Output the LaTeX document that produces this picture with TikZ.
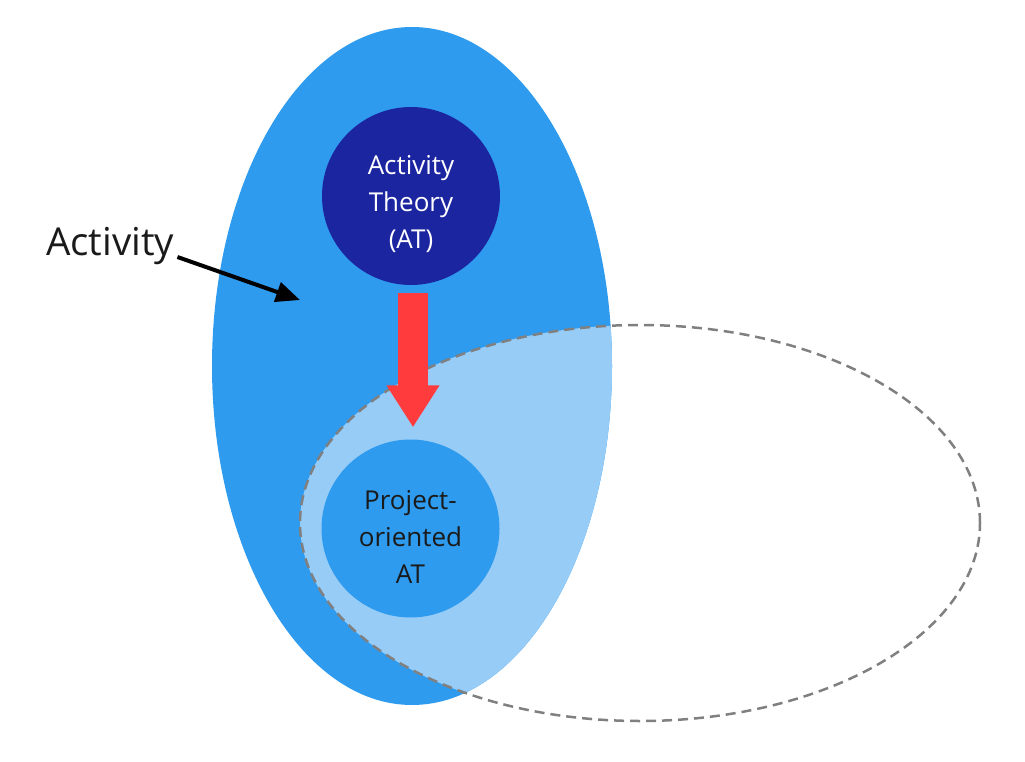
\documentclass[tikz,border=0pt]{standalone}
\usepackage{fontspec}
\setmainfont{Open Sans}
\usetikzlibrary{arrows.meta}
\definecolor{actblue}{HTML}{2E9BEF}
\definecolor{atdark}{HTML}{1C25A0}
\definecolor{lightblue}{HTML}{97CCF7}
\definecolor{redarrow}{HTML}{FF3B3E}
\definecolor{dashgray}{HTML}{808080}
\definecolor{txtdark}{HTML}{1A1A1A}
\tikzset{
  circnode/.style={circle, minimum size=178pt, inner sep=0pt},
  circtext/.style={inner sep=0pt, align=center, font=\fontsize{26}{37}\selectfont},
  dashline/.style={draw=dashgray, line width=2.5pt, dash pattern=on 10pt off 6pt},
}
\begin{document}
\begin{tikzpicture}[x=1pt,y=-1pt]
\useasboundingbox (0,0) rectangle (1025,762);
% big Activity ellipse
\fill[actblue] (412,366) ellipse [x radius=200pt, y radius=339pt];
% intersection region
\begin{scope}
  \clip (412,366) ellipse [x radius=200pt, y radius=339pt];
  \fill[lightblue] (640,523) ellipse [x radius=340pt, y radius=198pt];
\end{scope}
% dashed ellipse
\draw[dashline] (640,523) ellipse [x radius=340pt, y radius=198pt];
% circles
\node[circnode, fill=atdark] (at) at (411,196) {};
\node[circtext, text=white] (attext) at ([yshift=-8pt]at.center) {Activity\\Theory\\(AT)};
\node[circnode, fill=actblue] (poat) at (410.5,528.5) {};
\node[circtext, text=txtdark] (poattext) at ([yshift=-8pt]poat.center) {Project-\\oriented\\AT};
% red arrow
\draw[redarrow, line width=30pt, -{Triangle[length=42pt,width=50pt]},
  shorten <=8pt, shorten >=12pt] ([xshift=2pt]at.south) -- ([xshift=2.5pt]poat.north);
% Activity label
\node[anchor=base west, inner sep=0pt, text=txtdark, font=\fontsize{38.5}{46}\selectfont] (lbl) at (46,255) {Activity};
\coordinate (tipend) at (300,300);
\draw[black, line width=4pt, -{Triangle[length=24pt,width=20pt]}] ([xshift=3pt,yshift=-2pt]lbl.base east) -- (tipend);
\end{tikzpicture}
\end{document}
